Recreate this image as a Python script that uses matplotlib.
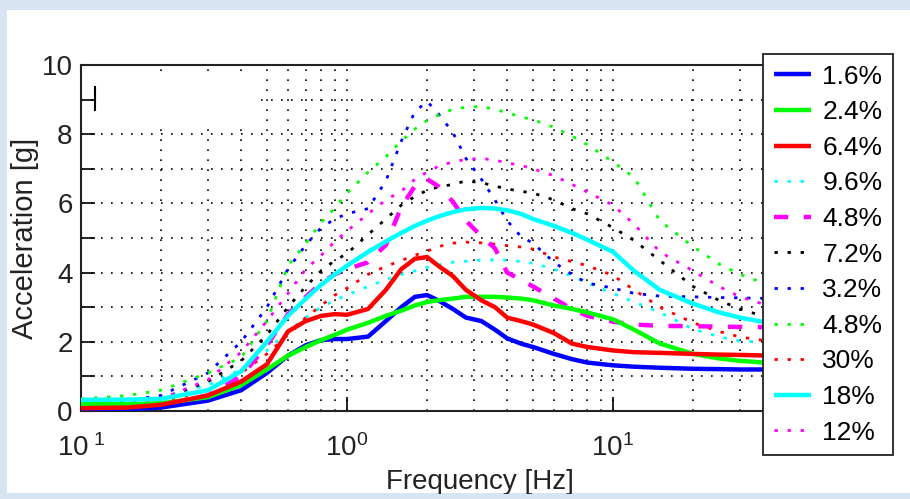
import numpy as np
import matplotlib
matplotlib.use('Agg')
import matplotlib.pyplot as plt
from matplotlib.patches import Rectangle

plt.rcParams['font.family'] = ['Liberation Sans', 'DejaVu Sans']
plt.rcParams['mathtext.fontset'] = 'custom'
plt.rcParams['mathtext.rm'] = 'Liberation Sans'
plt.rcParams['mathtext.it'] = 'Liberation Sans'

# =========================
# data
# =========================
freq = [0.1, 0.15, 0.2, 0.3, 0.4, 0.5, 0.6, 0.7, 0.8, 0.9, 1.0, 1.2, 1.4, 1.6, 1.8,
        2.0, 2.2, 2.5, 2.8, 3.2, 3.6, 4.0, 4.5, 5.0, 6.0, 7.0, 8.0, 10, 12, 15, 20,
        25, 30, 40, 60, 100]

blue_solid = [0.03, 0.05, 0.1, 0.3, 0.6, 1.1, 1.6, 1.9, 2.05, 2.08, 2.08, 2.15, 2.6, 3.0, 3.3,
              3.35, 3.2, 2.95, 2.7, 2.6, 2.35, 2.1, 1.95, 1.85, 1.65, 1.5, 1.4, 1.32, 1.28, 1.25, 1.22,
              1.21, 1.2, 1.2, 1.2, 1.2]
green_solid = [0.2, 0.2, 0.22, 0.4, 0.75, 1.2, 1.6, 1.85, 2.05, 2.2, 2.35, 2.55, 2.75, 2.9, 3.05,
               3.15, 3.2, 3.25, 3.3, 3.3, 3.3, 3.28, 3.25, 3.2, 3.05, 2.95, 2.85, 2.65, 2.35, 1.95, 1.65,
               1.52, 1.45, 1.38, 1.3, 1.25]
red_solid = [0.08, 0.1, 0.18, 0.45, 0.85, 1.35, 2.3, 2.6, 2.75, 2.8, 2.78, 2.95, 3.5, 4.1, 4.4,
             4.45, 4.2, 3.9, 3.5, 3.2, 3.0, 2.7, 2.6, 2.5, 2.25, 1.95, 1.85, 1.75, 1.7, 1.68, 1.65,
             1.63, 1.62, 1.6, 1.6, 1.6]
cyan_dotted = [0.3, 0.33, 0.4, 0.75, 1.2, 1.75, 2.3, 2.7, 3.0, 3.2, 3.35, 3.6, 3.8, 3.95, 4.05,
               4.15, 4.22, 4.3, 4.33, 4.36, 4.37, 4.36, 4.32, 4.27, 4.1, 3.9, 3.7, 3.4, 3.15, 2.85, 2.37,
               2.15, 2.02, 1.98, 1.95, 1.9]
magenta_dashed = [0.05, 0.07, 0.12, 0.45, 1.0, 1.9, 2.8, 3.3, 3.7, 3.95, 4.1, 4.3, 4.8, 5.9, 6.5,
                  6.7, 6.5, 6.05, 5.5, 5.05, 4.7, 4.0, 3.8, 3.6, 3.25, 2.95, 2.75, 2.58, 2.5, 2.46, 2.45,
                  2.44, 2.43, 2.42, 2.4, 2.4]
black_dotted = [0.2, 0.25, 0.35, 0.85, 1.45, 2.2, 3.0, 3.6, 4.05, 4.35, 4.55, 5.1, 5.55, 5.95, 6.2,
                6.38, 6.47, 6.55, 6.65, 6.6, 6.5, 6.42, 6.35, 6.3, 6.1, 5.85, 5.7, 5.3, 4.93, 4.35, 3.6,
                3.2, 2.95, 2.65, 2.35, 2.1]
blue_dotted = [0.2, 0.3, 0.45, 1.1, 2.0, 3.0, 4.1, 4.8, 5.3, 5.55, 5.7, 5.85, 6.65, 7.8, 8.65,
               8.95, 8.6, 8.05, 7.3, 6.7, 6.1, 5.5, 5.05, 4.85, 4.3, 3.95, 3.7, 3.55, 3.4, 3.32, 3.3,
               3.28, 3.27, 3.25, 3.22, 3.2]
green_dotted = [0.35, 0.45, 0.6, 1.1, 1.55, 2.6, 4.2, 4.85, 5.45, 5.87, 6.3, 6.9, 7.35, 7.8, 8.15,
                8.4, 8.55, 8.72, 8.78, 8.8, 8.72, 8.62, 8.5, 8.42, 8.2, 7.95, 7.7, 7.2, 6.75, 5.5, 4.75,
                4.25, 3.95, 3.6, 3.2, 2.9]
red_dotted = [0.1, 0.15, 0.25, 0.6, 1.1, 1.65, 2.2, 2.7, 3.05, 3.35, 3.55, 3.95, 4.18, 4.35, 4.5,
              4.62, 4.75, 4.85, 4.88, 4.86, 4.82, 4.78, 4.74, 4.68, 4.45, 4.32, 4.2, 3.92, 3.5, 3.0, 2.55,
              2.3, 2.14, 2.0, 1.9, 1.85]
cyan_solid = [0.32, 0.33, 0.35, 0.6, 1.15, 2.0, 2.75, 3.25, 3.65, 3.95, 4.2, 4.6, 4.9, 5.15, 5.35,
              5.5, 5.62, 5.75, 5.83, 5.87, 5.85, 5.8, 5.7, 5.55, 5.35, 5.15, 4.95, 4.6, 4.05, 3.5, 3.1,
              2.85, 2.7, 2.52, 2.4, 2.3]
magenta_dotted = [0.15, 0.2, 0.35, 0.9, 1.7, 2.6, 3.4, 4.1, 4.5, 4.9, 5.2, 5.7, 6.1, 6.35, 6.7,
                  6.9, 7.07, 7.2, 7.27, 7.3, 7.25, 7.17, 7.1, 7.0, 6.8, 6.55, 6.33, 5.95, 5.4, 4.6, 4.05,
                  3.6, 3.3, 3.0, 2.7, 2.5]

labels = ['1.6%', '2.4%', '6.4%', '9.6%', '4.8%', '7.2%', '3.2%', '4.8%', '30%', '18%', '12%']

dot = (0, (1.2, 3.5))
styles = [
    (blue_solid, '#0000ff', '-', 3.2, 5),
    (green_solid, '#00ff00', '-', 3.2, 5),
    (red_solid, '#ff0000', '-', 3.2, 5),
    (cyan_dotted, '#00ffff', dot, 2.0, 3),
    (magenta_dashed, '#ff00ff', (0, (3.2, 3.5)), 3.2, 4),
    (black_dotted, '#000000', dot, 2.0, 3),
    (blue_dotted, '#0000ff', dot, 2.0, 3),
    (green_dotted, '#00ff00', dot, 2.0, 3),
    (red_dotted, '#ff0000', dot, 2.0, 3),
    (cyan_solid, '#00ffff', '-', 3.2, 5),
    (magenta_dotted, '#ff00ff', dot, 2.0, 3),
]

# =========================
# figure
# =========================
bg = '#d6e4f4'
fig = plt.figure(figsize=(9.10, 4.99), dpi=100)
fig.patch.set_facecolor(bg)
fig.add_artist(Rectangle((7 / 910, 6 / 499), 903 / 910, 483 / 499,
                         transform=fig.transFigure, facecolor='white',
                         edgecolor='none', zorder=-1))

ax = fig.add_axes([81 / 910, 88 / 499, 798 / 910, 346 / 499])
ax.set_xscale('log')
ax.set_xlim(0.1, 100)
ax.set_ylim(0, 10)
ax.set_axisbelow(True)

lines = []
for (vals, col, ls, lw, z), lab in zip(styles, labels):
    ln, = ax.plot(freq, vals, color=col, linestyle=ls, linewidth=lw,
                  label=lab, zorder=z, solid_capstyle='butt')
    lines.append(ln)

# grid
ax.grid(True, which='both', axis='x', color='black', linestyle=(0, (1, 5)), linewidth=1.2)
ax.set_yticks(np.arange(0, 11, 1))
ax.set_yticklabels(['0', '', '2', '', '4', '', '6', '', '8', '', '10'])
ax.grid(True, which='major', axis='y', color='black', linestyle=(0, (1, 5)), linewidth=1.2)

# white patch in upper left that hides the grid
ax.add_patch(Rectangle((0.114, 8.15), 0.34, 1.6, facecolor='white',
                       edgecolor='none', zorder=1))
ax.plot([0.0175, 0.0175], [8.7, 9.35], transform=ax.get_yaxis_transform(),
        color='black', linewidth=1.5, zorder=6, clip_on=False)

ax.set_xticks([0.1, 1, 10])
ax.set_xticklabels([r'$\mathregular{10^{\ 1}}$', r'$\mathregular{10^{0}}$',
                    r'$\mathregular{10^{1}}$'])
ax.tick_params(axis='both', which='major', direction='in', length=10, width=1.2,
               labelsize=20, colors='black', labelcolor='#222222')
ax.tick_params(axis='x', which='minor', direction='in', length=0)
ax.tick_params(axis='x', pad=17)
ax.tick_params(axis='y', pad=6)

for sp in ax.spines.values():
    sp.set_linewidth(1.5)
    sp.set_color('#222222')

ax.set_xlabel('Frequency [Hz]', fontsize=20, labelpad=5, color='#222222')
ax.set_ylabel('Acceleration [g]', fontsize=21, labelpad=2, color='#222222')

leg = fig.legend(handles=lines, loc='upper left',
                 bbox_to_anchor=(763 / 910, 1 - 54 / 499),
                 bbox_transform=fig.transFigure, borderaxespad=0,
                 fontsize=19, frameon=True, fancybox=False, framealpha=1,
                 edgecolor='#222222', handlelength=1.4, handletextpad=0.45,
                 labelspacing=0.44, borderpad=0.4)
leg.get_frame().set_linewidth(1.3)
leg.set_zorder(20)

# blue frame strips at top and bottom
fig.add_artist(Rectangle((0, 0), 1, 5 / 499, transform=fig.transFigure,
                         facecolor=bg, edgecolor='none', zorder=30))
fig.add_artist(Rectangle((0, 489 / 499), 1, 10 / 499, transform=fig.transFigure,
                         facecolor=bg, edgecolor='none', zorder=30))

fig.savefig('out.png', dpi=100, facecolor=fig.get_facecolor())
